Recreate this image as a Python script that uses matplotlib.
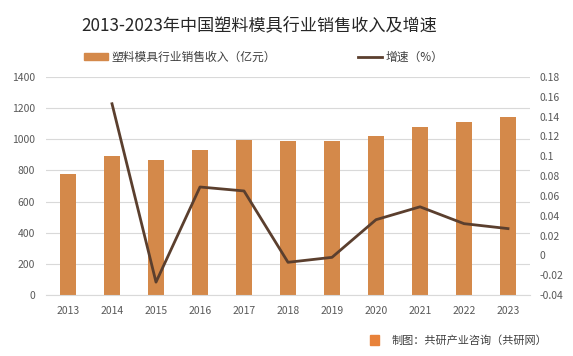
import matplotlib
matplotlib.use("Agg")
import matplotlib.pyplot as plt
from matplotlib.lines import Line2D
from matplotlib.patches import Patch, Rectangle

plt.rcParams['font.family'] = ['Noto Sans CJK SC', 'DejaVu Sans']

years = ['2013', '2014', '2015', '2016', '2017', '2018', '2019', '2020', '2021', '2022', '2023']
revenue = [775, 895, 870, 932, 995, 987, 988, 1024, 1078, 1110, 1140]
growth_years = years[1:]
growth = [0.153, -0.027, 0.069, 0.065, -0.007, -0.002, 0.036, 0.049, 0.032, 0.027]

left_ticks = [0, 200, 400, 600, 800, 1000, 1200, 1400]
right_ticks = [-0.04, -0.02, 0, 0.02, 0.04, 0.06, 0.08, 0.1, 0.12, 0.14, 0.16, 0.18]
right_labels = ['-0.04', '-0.02', '0', '0.02', '0.04', '0.06', '0.08', '0.1', '0.12', '0.14', '0.16', '0.18']

bar_color = '#D4894A'
line_color = '#5B3F2E'
tick_color = '#595959'

fig = plt.figure(figsize=(5.73, 3.56), dpi=100)
ax = fig.add_axes([46/573, 1-295/356, (530-46)/573, (295-77)/356])
x = list(range(len(years)))
ax.bar(x, revenue, width=0.38, color=bar_color, zorder=2)
ax.set_xlim(-0.5, len(years)-0.5)
ax.set_ylim(0, 1400)
ax.set_yticks(left_ticks)
ax.set_xticks(x)
ax.set_xticklabels(years)
ax.grid(axis='y', color='#d9d9d9', linewidth=0.8, zorder=0)
for s in ['top', 'right', 'left']:
    ax.spines[s].set_visible(False)
ax.spines['bottom'].set_color('#d9d9d9')
ax.tick_params(axis='both', length=0, labelsize=7.5, colors=tick_color)
ax.tick_params(axis='x', pad=8)
ax.tick_params(axis='y', pad=8)

ax2 = ax.twinx()
ax2.plot(x[1:], growth, color=line_color, linewidth=2, zorder=3)
ax2.set_ylim(-0.04, 0.18)
ax2.set_yticks(right_ticks)
ax2.set_yticklabels(right_labels)
for s in ax2.spines.values():
    s.set_visible(False)
ax2.tick_params(axis='y', length=0, labelsize=7.5, colors=tick_color, pad=7)
for lbl in ax2.get_yticklabels():
    lbl.set_horizontalalignment('left')

fig.text(0.452, 1-25/356, '2013-2023年中国塑料模具行业销售收入及增速', ha='center', va='center',
         fontsize=12.3, color='#262626')

handles = [Patch(color=bar_color), Line2D([0], [0], color=line_color, linewidth=2)]
labels = ['塑料模具行业销售收入（亿元）', '增速（%）']
fig.legend(handles, labels, loc='center', bbox_to_anchor=(0.46, 1-57/356), ncol=2,
           frameon=False, fontsize=8.5, columnspacing=7.0, handlelength=2.0,
           handletextpad=0.3, handleheight=0.6, labelcolor='#404040')

fig.patches.append(Rectangle((370/573, 1-345/356), 9/573, 10/356, transform=fig.transFigure,
                             color='#E8823A'))
fig.text(392/573, 1-341/356, '制图：共研产业咨询（共研网）', ha='left', va='center',
         fontsize=8, color='#404040')

fig.savefig('out.png', dpi=100)
